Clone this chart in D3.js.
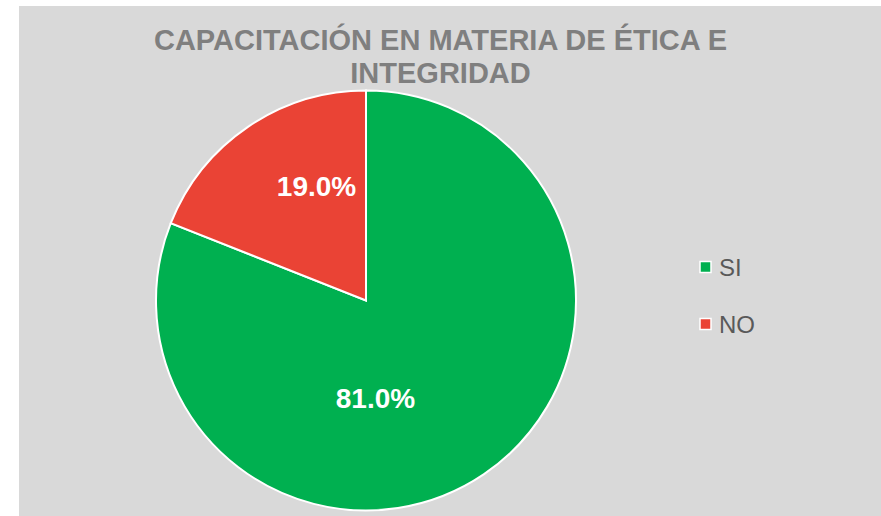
<!DOCTYPE html>
<html><head><meta charset="utf-8">
<script src="https://cdn.jsdelivr.net/npm/d3@7"></script>
<style>html,body{margin:0;padding:0;background:#fff;}svg{display:block;}</style>
</head><body>
<svg id="chart" width="881" height="516"></svg>
<script>
const titleLines = ["CAPACITACIÓN EN MATERIA DE ÉTICA E", "INTEGRIDAD"];
const categories = ["SI", "NO"];
const values = [81.0, 19.0];
const colors = ["#00B050", "#EA4335"];

const svg = d3.select("#chart");
const font = "'Liberation Sans', Arial, sans-serif";

svg.append("rect").attr("x", 19).attr("y", 6).attr("width", 881 - 19).attr("height", 516 - 6).attr("fill", "#D9D9D9");

svg.append("g").selectAll("text").data(titleLines).join("text")
  .attr("x", 440.5).attr("y", (d, i) => 50 + i * 32.5)
  .attr("text-anchor", "middle").attr("font-family", font).attr("font-weight", "bold")
  .attr("font-size", 29).attr("fill", "#7F7F7F").text(d => d);

const data = categories.map((c, i) => ({cat: c, value: values[i], color: colors[i]}));
const pie = d3.pie().sort(null).value(d => d.value);
const r = 210;
const arc = d3.arc().innerRadius(0).outerRadius(r);
const g = svg.append("g").attr("transform", "translate(366,300.5)");
const arcs = pie(data);
g.selectAll("path").data(arcs).join("path")
  .attr("d", arc).attr("fill", d => d.data.color)
  .attr("stroke", "#fff").attr("stroke-width", 2);

// best-fit style label placement (angle offset from slice middle, radius)
function labelPos(d) {
  const mid = (d.startAngle + d.endAngle) / 2;
  const big = (d.endAngle - d.startAngle) > Math.PI;
  const a = big ? mid + 0.5 : mid + 0.19;
  const rr = big ? r * 0.465 : r * 0.595;
  return [Math.sin(a) * rr, -Math.cos(a) * rr];
}
g.selectAll("text.lbl").data(arcs).join("text").attr("class", "lbl")
  .attr("transform", d => { const c = labelPos(d); return `translate(${c[0]},${c[1]})`; })
  .attr("text-anchor", "middle").attr("dy", "0.36em")
  .attr("font-family", font).attr("font-weight", "bold").attr("font-size", 28)
  .attr("fill", "#fff").text(d => d.data.value.toFixed(1) + "%");

const leg = svg.append("g").selectAll("g").data(data).join("g")
  .attr("transform", (d, i) => `translate(700,${267 + i * 57})`);
leg.append("rect").attr("x", 0).attr("y", -5.5).attr("width", 11).attr("height", 11)
  .attr("fill", d => d.color).attr("stroke", "#fff").attr("stroke-width", 1.5);
leg.append("text").attr("x", 19).attr("y", 8.5)
  .attr("font-family", font).attr("font-size", 24).attr("fill", "#595959").text(d => d.cat);
</script>
</body></html>
